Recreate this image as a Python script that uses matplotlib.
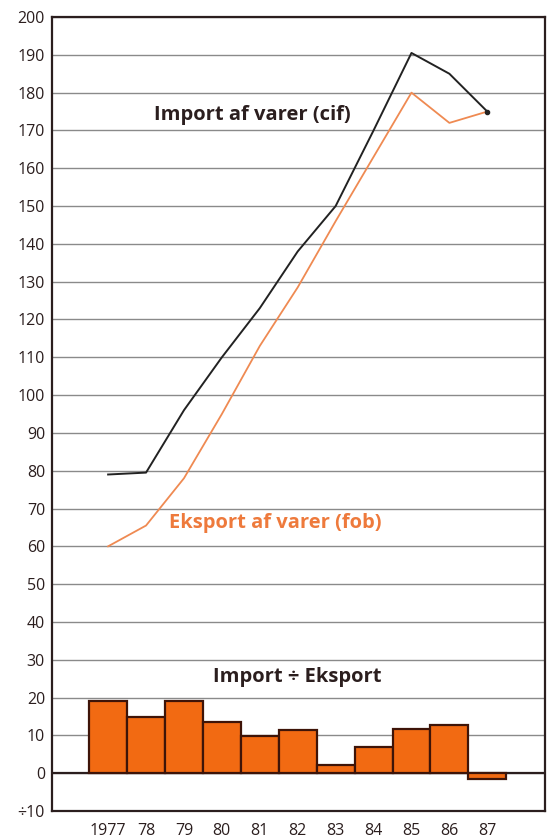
import matplotlib

matplotlib.use("Agg")
import matplotlib.pyplot as plt

# data (mia. kr.)
YEARS = [1977, 1978, 1979, 1980, 1981, 1982, 1983, 1984, 1985, 1986, 1987]
YEAR_LABELS = ["1977", "78", "79", "80", "81", "82", "83", "84", "85", "86", "87"]
IMPORT = [79, 79.5, 96, 110, 123, 138, 150, 170, 190.5, 185, 175]
EXPORT = [60, 65.5, 78, 95, 113, 128.5, 146, 163, 180, 172, 175]
BALANCE = [19, 14.8, 19, 13.5, 9.7, 11.3, 2.2, 6.8, 11.7, 12.8, -1.6]
Y_TICKS = list(range(-10, 201, 10))
Y_LABELS = ["÷10"] + [str(v) for v in Y_TICKS[1:]]

COLORS = {
    "ink": "#2b1e1e",
    "grid": "#8a8a8a",
    "bar": "#f26a12",
    "bar_edge": "#3e1408",
    "export": "#ef8a52",
    "export_text": "#ee7a3c",
}

plt.rcParams["font.family"] = ["Open Sans", "DejaVu Sans"]

fig = plt.figure(figsize=(5.52, 8.39), dpi=100, facecolor="white")
ax = fig.add_axes([0.0942, 0.0334, 0.893, 0.9463])
ax.set_xlim(1975.52, 1988.52)
ax.set_ylim(-10, 200)

ax.set_yticks(Y_TICKS, labels=Y_LABELS)
ax.set_xticks(YEARS, labels=YEAR_LABELS)
ax.yaxis.grid(True, color=COLORS["grid"], linewidth=1.0, zorder=0)
ax.set_axisbelow(True)
ax.tick_params(axis="y", length=0, pad=5, labelsize=11.5, labelcolor=COLORS["ink"])
ax.tick_params(axis="x", length=0, pad=9, labelsize=11.5, labelcolor=COLORS["ink"])
for sp in ax.spines.values():
    sp.set_color(COLORS["ink"])
    sp.set_linewidth(1.6)

ax.bar(YEARS, BALANCE, width=1.0, color=COLORS["bar"],
       edgecolor=COLORS["bar_edge"], linewidth=1.6, zorder=3)
ax.axhline(0, color=COLORS["ink"], linewidth=1.6, zorder=2)

ax.plot(YEARS, EXPORT, color=COLORS["export"], linewidth=1.3, zorder=4)
ax.plot(YEARS, IMPORT, color="#222222", linewidth=1.4, zorder=5)
ax.plot(YEARS[-1], IMPORT[-1], marker="o", markersize=3, color="#222222", zorder=6)

label_style = {"ha": "center", "va": "center", "fontsize": 14.5, "fontweight": "bold"}
ax.text(1980.81, 174, "Import af varer (cif)", color=COLORS["ink"], **label_style)
ax.text(1981.40, 66.2, "Eksport af varer (fob)", color=COLORS["export_text"], **label_style)
ax.text(1982.0, 25.5, "Import ÷ Eksport", color=COLORS["ink"], **label_style)

fig.savefig("out.png", dpi=100, facecolor="white")
plt.close(fig)
